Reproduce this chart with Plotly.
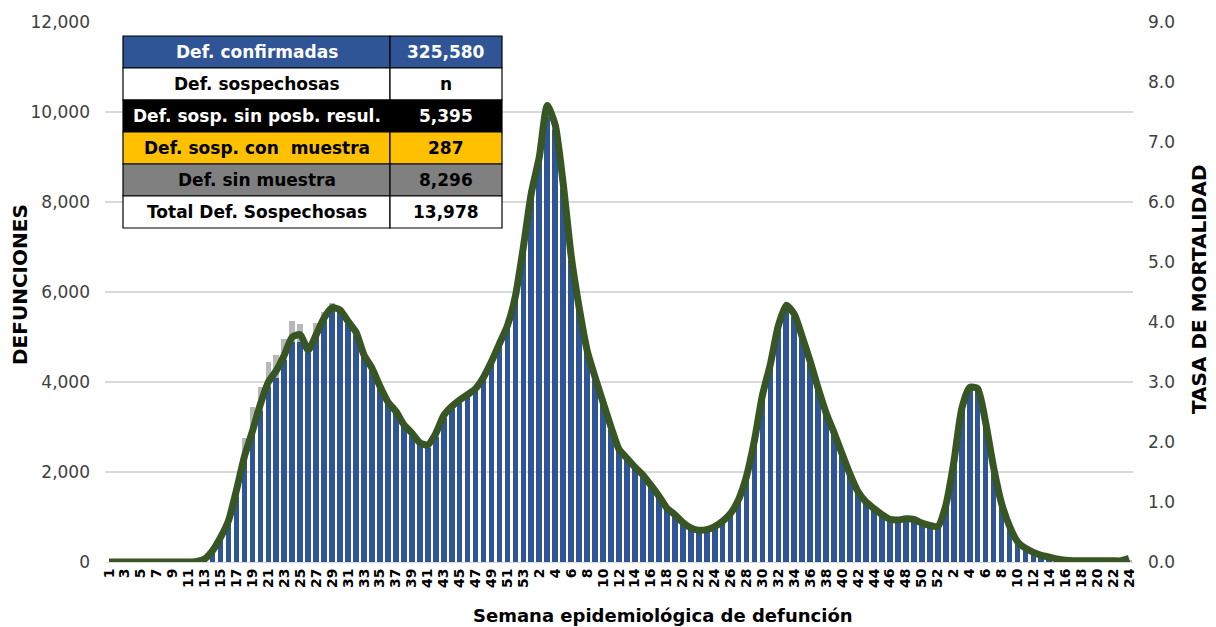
import plotly.graph_objects as go

# ---- data ----
weeks_2020 = list(range(1, 54))
weeks_2021 = list(range(1, 53))
weeks_2022 = list(range(1, 25))
week_labels = [str(w) for w in weeks_2020 + weeks_2021 + weeks_2022]

confirmadas = [
    0, 0, 0, 0, 0, 0, 0, 0, 0, 0,
    0, 5, 40, 200, 520, 880, 1450, 2250, 2850, 3350,
    3900, 4100, 4500, 4900, 4900, 4650, 5000, 5350, 5600, 5550,
    5300, 5050, 4550, 4250, 3850, 3550, 3300, 3000, 2800, 2600,
    2550, 2780, 3200, 3400, 3550, 3680, 3800, 4050, 4400, 4800,
    5200, 5850, 6900, 8100, 8950, 9900, 9600, 8300, 6700, 5600,
    4650, 4050, 3500, 2950, 2480, 2280, 2080, 1900, 1680, 1440,
    1180, 1030, 870, 750, 690, 710, 770, 890, 1070, 1360,
    1880, 2680, 3680, 4380, 5200, 5650, 5450, 4980, 4420, 3830,
    3280, 2840, 2380, 1930, 1550, 1320, 1170, 1040, 940, 920,
    950, 930, 860, 800, 770, 1230, 2180, 3380, 3850, 3820,
    3080, 2080, 1280, 790, 440, 290, 200, 140, 90, 55,
    35, 25, 20, 20, 20, 20, 20, 20, 15,
]

sin_muestra = [
    0, 0, 0, 0, 0, 0, 0, 0, 0, 0,
    0, 0, 0, 0, 30, 80, 150, 500, 600, 550,
    550, 500, 450, 450, 400, 150, 320, 200, 150, 100,
    80, 60, 50, 40, 40, 40, 40, 40, 40, 40,
    40, 40, 40, 40, 40, 40, 40, 40, 40, 40,
    40, 40, 40, 50, 50, 50, 50, 50, 50, 50,
    50, 30, 30, 30, 30, 30, 30, 30, 30, 30,
    30, 30, 30, 30, 30, 30, 30, 30, 30, 30,
    30, 30, 30, 30, 30, 30, 30, 30, 30, 30,
    30, 30, 30, 30, 30, 30, 30, 30, 30, 30,
    30, 30, 30, 30, 30, 30, 30, 30, 30, 30,
    30, 30, 30, 30, 20, 20, 20, 20, 20, 20,
    10, 10, 10, 10, 10, 10, 10, 10, 10,
]

tasa = [
    0.0, 0.0, 0.0, 0.0, 0.0, 0.0, 0.0, 0.0, 0.0, 0.0,
    0.0, 0.01, 0.05, 0.19, 0.41, 0.69, 1.20, 1.76, 2.18, 2.63,
    3.00, 3.19, 3.45, 3.75, 3.79, 3.53, 3.79, 4.07, 4.24, 4.20,
    4.01, 3.83, 3.45, 3.23, 2.93, 2.67, 2.51, 2.29, 2.15, 1.99,
    1.95, 2.14, 2.44, 2.59, 2.70, 2.79, 2.89, 3.08, 3.34, 3.64,
    3.94, 4.43, 5.25, 6.15, 6.75, 7.61, 7.28, 6.30, 5.10, 4.24,
    3.53, 3.08, 2.66, 2.25, 1.88, 1.73, 1.58, 1.45, 1.28, 1.10,
    0.90, 0.79, 0.66, 0.57, 0.53, 0.54, 0.59, 0.68, 0.81, 1.04,
    1.43, 2.03, 2.78, 3.30, 3.94, 4.28, 4.13, 3.75, 3.34, 2.89,
    2.48, 2.15, 1.80, 1.46, 1.17, 1.00, 0.89, 0.79, 0.71, 0.70,
    0.72, 0.71, 0.65, 0.61, 0.59, 0.94, 1.65, 2.55, 2.91, 2.89,
    2.33, 1.58, 0.98, 0.60, 0.34, 0.23, 0.16, 0.11, 0.08, 0.05,
    0.03, 0.02, 0.02, 0.02, 0.02, 0.02, 0.02, 0.02, 0.06,
]

table_labels = ["Def. confirmadas", "Def. sospechosas", "Def. sosp. sin posb. resul.",
                "Def. sosp. con  muestra", "Def. sin muestra", "Total Def. Sospechosas"]
table_values = ["325,580", "n", "5,395", "287", "8,296", "13,978"]
table_fill = ["#2F5597", "#FFFFFF", "#000000", "#FFC000", "#808080", "#FFFFFF"]
table_font = ["#FFFFFF", "#000000", "#FFFFFF", "#000000", "#000000", "#000000"]

# ---- figure ----
x_idx = list(range(len(week_labels)))

fig = go.Figure()
fig.add_trace(go.Bar(x=x_idx, y=confirmadas, marker_color="#2F5597",
                     marker_line_width=0, name="Def. confirmadas"))
fig.add_trace(go.Bar(x=x_idx, y=sin_muestra, marker_color="#B8B8B8",
                     marker_line_width=0, name="Def. sin muestra"))
fig.add_trace(go.Scatter(x=x_idx, y=tasa, yaxis="y2", mode="lines",
                         line=dict(color="#375623", width=7, shape="spline", smoothing=0.6),
                         name="Tasa"))

# page body has an 8px margin in the browser: compensate
OFF = 8
W, H = 1216 - OFF, 627 - OFF
L0, R0, T0, B0 = 105, 1133, 22, 562          # plot area in reference pixels
L, T = L0 - OFF, T0 - OFF
R, B = 1216 - R0, 627 - B0
pw, ph = R0 - L0, B0 - T0


def px(xp):
    return (xp - L0) / pw


def py(yp):
    return (B0 - yp) / ph


FONT = "DejaVu Sans"
shapes = []
annotations = []
row_top = 36
row_h = 32
x0, x1, x2 = 123, 390, 502
for i, (lab, val, fc, tc) in enumerate(zip(table_labels, table_values, table_fill, table_font)):
    yt = row_top + i * row_h
    yb = yt + row_h
    for a, b in ((x0, x1), (x1, x2)):
        shapes.append(dict(type="rect", xref="paper", yref="paper",
                           x0=px(a), x1=px(b), y0=py(yb), y1=py(yt),
                           fillcolor=fc, line=dict(color="#000000", width=1.2), layer="above"))
    annotations.append(dict(xref="paper", yref="paper", x=px((x0 + x1) / 2), y=py(yt + row_h / 2),
                            text="<b>%s</b>" % lab, showarrow=False, xanchor="center", yanchor="middle",
                            font=dict(family=FONT, size=17, color=tc)))
    annotations.append(dict(xref="paper", yref="paper", x=px((x1 + x2) / 2), y=py(yt + row_h / 2),
                            text="<b>%s</b>" % val, showarrow=False, xanchor="center", yanchor="middle",
                            font=dict(family=FONT, size=17, color=tc)))

annotations.append(dict(xref="paper", yref="paper", x=px(663), y=py(615),
                        text="<b>Semana epidemiológica de defunción</b>", showarrow=False,
                        xanchor="center", yanchor="middle",
                        font=dict(family=FONT, size=18, color="#000000")))
annotations.append(dict(xref="paper", yref="paper", x=px(20), y=py(285),
                        text="<b>DEFUNCIONES</b>", showarrow=False, textangle=-90,
                        xanchor="center", yanchor="middle",
                        font=dict(family=FONT, size=20, color="#000000")))
annotations.append(dict(xref="paper", yref="paper", x=px(1199), y=py(290),
                        text="<b>TASA DE MORTALIDAD</b>", showarrow=False, textangle=-90,
                        xanchor="center", yanchor="middle",
                        font=dict(family=FONT, size=20, color="#000000")))

tickvals = x_idx[::2]
ticktext = ["<b>%s</b>" % t for t in week_labels[::2]]

fig.update_layout(
    width=W, height=H,
    margin=dict(l=L, r=R, t=T, b=B, autoexpand=False),
    paper_bgcolor="white", plot_bgcolor="white",
    barmode="stack", bargap=0.28,
    showlegend=False,
    shapes=shapes, annotations=annotations,
    xaxis=dict(range=[-0.5, len(week_labels) - 0.5], tickmode="array",
               tickvals=tickvals, ticktext=ticktext, tickangle=-90,
               tickfont=dict(family=FONT, size=14, color="#000000"),
               showgrid=False, showline=True, linecolor="#D9D9D9", ticks="", ticklen=0),
    yaxis=dict(range=[0, 12000], dtick=2000, tickformat=",",
               tickfont=dict(family=FONT, size=17, color="#404040"),
               showgrid=True, gridcolor="#D9D9D9", gridwidth=1.5, zeroline=False,
               ticks="", ticklabelstandoff=14),
    yaxis2=dict(range=[0, 9], dtick=1, tickformat=".1f", overlaying="y", side="right",
                tickfont=dict(family=FONT, size=17, color="#404040"),
                showgrid=False, zeroline=False, ticks="", ticklabelstandoff=14),
)

fig.write_html("out.html")
